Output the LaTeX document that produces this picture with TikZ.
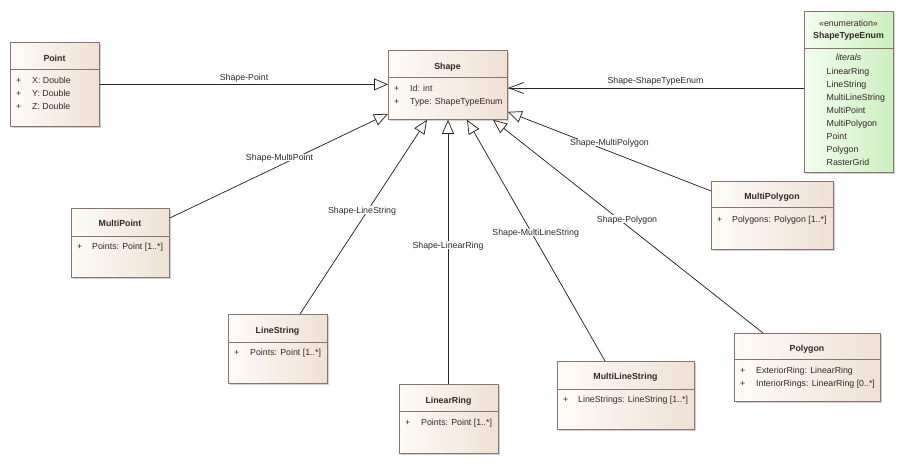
\documentclass[tikz,border=0pt]{standalone}
\usepackage{fontspec}
\setmainfont{Liberation Sans}
\usetikzlibrary{arrows.meta,calc,shadows}
\definecolor{bordc}{RGB}{138,115,112}
\definecolor{fillL}{RGB}{254,251,248}
\definecolor{fillR}{RGB}{238,225,212}
\definecolor{grnL}{RGB}{243,253,239}
\definecolor{grnR}{RGB}{204,239,192}
\definecolor{txtc}{RGB}{52,40,40}
\tikzset{
  cls/.style={draw=bordc, line width=0.8pt, left color=fillL, right color=fillR,
    anchor=north west, inner sep=0pt,
    drop shadow={shadow xshift=2pt, shadow yshift=-2pt, fill=black, opacity=0.18}},
  enumcls/.style={cls, left color=grnL, right color=grnR},
  divider/.style={draw=bordc, line width=0.8pt},
  txt/.style={inner sep=0pt, text height=6.3pt, text depth=0pt, text=txtc,
    font=\fontsize{8.8}{10}\selectfont},
  ttl/.style={txt, font=\fontsize{8.8}{10}\selectfont\bfseries},
  lbl/.style={txt, fill=white, inner sep=0.6pt},
  conn/.style={draw=black!85, line width=0.75pt},
  gen/.style={conn, -{Triangle[length=14pt,width=12pt,fill=fillL]}},
  nav/.style={conn, -{Straight Barb[length=15pt,width=11pt,line width=0.75pt]}}
}
\begin{document}
\begin{tikzpicture}[x=1pt,y=-1pt]
\useasboundingbox[fill=white] (0,0) rectangle (904,464);

% ---------- class boxes ----------
\node[cls, minimum width=89pt, minimum height=84pt] (point) at (10,42) {};
\node[cls, minimum width=119pt, minimum height=69pt] (shape) at (388,50) {};
\node[enumcls, minimum width=89pt, minimum height=161pt] (enum) at (804,11) {};
\node[cls, minimum width=98pt, minimum height=69pt] (mpoint) at (71,208) {};
\node[cls, minimum width=99pt, minimum height=69pt] (lstr) at (228,314) {};
\node[cls, minimum width=99pt, minimum height=69pt] (lring) at (399,384) {};
\node[cls, minimum width=137pt, minimum height=68pt] (mls) at (557,361) {};
\node[cls, minimum width=146pt, minimum height=68pt] (poly) at (734,333) {};
\node[cls, minimum width=122pt, minimum height=68pt] (mpoly) at (711,181) {};

% ---------- dividers ----------
\draw[divider] ($(point.north west)+(0,27)$) -- ($(point.north east)+(0,27)$);
\draw[divider] ($(shape.north west)+(0,27)$) -- ($(shape.north east)+(0,27)$);
\draw[divider] ($(enum.north west)+(0,37)$) -- ($(enum.north east)+(0,37)$);
\draw[divider] ($(mpoint.north west)+(0,28)$) -- ($(mpoint.north east)+(0,28)$);
\draw[divider] ($(lstr.north west)+(0,28)$) -- ($(lstr.north east)+(0,28)$);
\draw[divider] ($(lring.north west)+(0,27)$) -- ($(lring.north east)+(0,27)$);
\draw[divider] ($(mls.north west)+(0,28)$) -- ($(mls.north east)+(0,28)$);
\draw[divider] ($(poly.north west)+(0,26)$) -- ($(poly.north east)+(0,26)$);
\draw[divider] ($(mpoly.north west)+(0,26)$) -- ($(mpoly.north east)+(0,26)$);

% ---------- Point ----------
\node[ttl] (pointT) at (54.5,58) {Point};
\node[txt, anchor=west] (pointA1p) at (16,80.5) {+};
\node[txt, anchor=west] (pointA1) at (32,80.5) {X: Double};
\node[txt, anchor=west] (pointA2p) at (16,93) {+};
\node[txt, anchor=west] (pointA2) at (32,93) {Y: Double};
\node[txt, anchor=west] (pointA3p) at (16,106) {+};
\node[txt, anchor=west] (pointA3) at (32,106) {Z: Double};

% ---------- Shape ----------
\node[ttl] (shapeT) at (447.5,66) {Shape};
\node[txt, anchor=west] (shapeA1p) at (394,88.3) {+};
\node[txt, anchor=west] (shapeA1) at (410,88.3) {Id: int};
\node[txt, anchor=west] (shapeA2p) at (394,101) {+};
\node[txt, anchor=west] (shapeA2) at (410,101) {Type: ShapeTypeEnum};

% ---------- ShapeTypeEnum ----------
\node[txt] (enumS) at (848.5,23.3) {«enumeration»};
\node[ttl] (enumT) at (848.5,35.7) {ShapeTypeEnum};
\node[txt, font=\fontsize{8.8}{10}\selectfont\itshape] (enumL) at (848.5,57.7) {literals};
\node[txt, anchor=west] (e1) at (826.5,71) {LinearRing};
\node[txt, anchor=west] (e2) at (826.5,84) {LineString};
\node[txt, anchor=west] (e3) at (826.5,97) {MultiLineString};
\node[txt, anchor=west] (e4) at (826.5,110) {MultiPoint};
\node[txt, anchor=west] (e5) at (826.5,123) {MultiPolygon};
\node[txt, anchor=west] (e6) at (826.5,136) {Point};
\node[txt, anchor=west] (e7) at (826.5,149) {Polygon};
\node[txt, anchor=west] (e8) at (826.5,162) {RasterGrid};

% ---------- MultiPoint ----------
\node[ttl] (mpointT) at (120,223) {MultiPoint};
\node[txt, anchor=west] (mpointAp) at (77,246) {+};
\node[txt, anchor=west] (mpointA) at (92,246) {Points: Point [1..*]};

% ---------- LineString ----------
\node[ttl] (lstrT) at (277.5,330) {LineString};
\node[txt, anchor=west] (lstrAp) at (234,352) {+};
\node[txt, anchor=west] (lstrA) at (250,352) {Points: Point [1..*]};

% ---------- LinearRing ----------
\node[ttl] (lringT) at (448.5,400) {LinearRing};
\node[txt, anchor=west] (lringAp) at (405,422) {+};
\node[txt, anchor=west] (lringA) at (421,422) {Points: Point [1..*]};

% ---------- MultiLineString ----------
\node[ttl] (mlsT) at (625.5,376) {MultiLineString};
\node[txt, anchor=west] (mlsAp) at (563,399) {+};
\node[txt, anchor=west] (mlsA) at (578,399) {LineStrings: LineString [1..*]};

% ---------- Polygon ----------
\node[ttl] (polyT) at (807,348) {Polygon};
\node[txt, anchor=west] (polyA1p) at (740,370) {+};
\node[txt, anchor=west] (polyA1) at (756,370) {ExteriorRing: LinearRing};
\node[txt, anchor=west] (polyA2p) at (740,383) {+};
\node[txt, anchor=west] (polyA2) at (756,383) {InteriorRings: LinearRing [0..*]};

% ---------- MultiPolygon ----------
\node[ttl] (mpolyT) at (772,196) {MultiPolygon};
\node[txt, anchor=west] (mpolyAp) at (717,219) {+};
\node[txt, anchor=west] (mpolyA) at (732,219) {Polygons: Polygon [1..*]};

% ---------- connectors ----------
\draw[gen] (point.east) -- (point.east -| shape.west);
\coordinate (enumP) at ($(enum.north west)+(0,77)$);
\draw[nav] (enumP) -- (enumP -| shape.east);
\draw[gen] ($(mpoint.north east)+(0,10)$) -- ($(shape.south west)+(0,-6)$);
\draw[gen] ($(lstr.north west)+(72,0)$) -- ($(shape.south west)+(39,0)$);
\coordinate (lringP) at ($(lring.north west)+(49,0)$);
\draw[gen] (lringP) -- (lringP |- shape.south);
\draw[gen] ($(mls.north west)+(48,0)$) -- ($(shape.south west)+(79,0)$);
\draw[gen] ($(poly.north west)+(29,0)$) -- ($(shape.south west)+(105,0)$);
\draw[gen] ($(mpoly.north west)+(0,10)$) -- ($(shape.south east)+(0,-8)$);

% ---------- connector labels ----------
\node[txt] (lPoint) at (244,77.3) {Shape-Point};
\node[txt] (lEnum) at (655.5,80.3) {Shape-ShapeTypeEnum};
\node[lbl] (lMPoint) at (279.5,157.7) {Shape-MultiPoint};
\node[lbl] (lLStr) at (362,210) {Shape-LineString};
\node[lbl] (lLRing) at (448,245) {Shape-LinearRing};
\node[lbl] (lMLS) at (535.7,232.7) {Shape-MultiLineString};
\node[lbl] (lMPoly) at (609.5,142.7) {Shape-MultiPolygon};
\node[lbl] (lPoly) at (627,219) {Shape-Polygon};
\end{tikzpicture}
\end{document}
